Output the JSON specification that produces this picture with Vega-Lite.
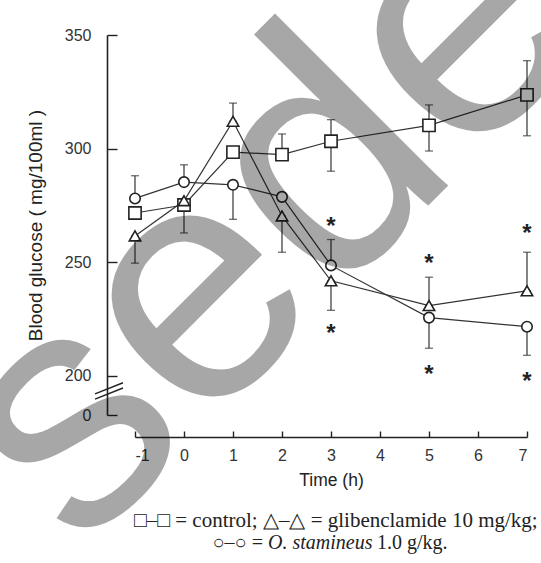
{
  "$schema": "https://vega.github.io/schema/vega-lite/v6.json",
  "width": 392,
  "height": 380,
  "autosize": {"type": "none"},
  "padding": {"left": 135, "top": 35, "right": 14, "bottom": 148},
  "background": "white",
  "config": {"view": {"stroke": null}, "font": "Liberation Sans"},
  "datasets": {
    "glucose": [
      {"group": "control", "t": -1, "y": 271.6, "lo": 271.6, "hi": 271.6},
      {"group": "control", "t": 0, "y": 275.1, "lo": 262.8, "hi": 275.1},
      {"group": "control", "t": 1, "y": 298.4, "lo": 298.4, "hi": 298.4},
      {"group": "control", "t": 2, "y": 297.3, "lo": 297.3, "hi": 306.4},
      {"group": "control", "t": 3, "y": 303.2, "lo": 290.0, "hi": 312.7},
      {"group": "control", "t": 5, "y": 310.2, "lo": 298.9, "hi": 319.2},
      {"group": "control", "t": 7, "y": 323.6, "lo": 305.6, "hi": 338.7},
      {"group": "glibenclamide", "t": -1, "y": 261.5, "lo": 249.5, "hi": 261.5},
      {"group": "glibenclamide", "t": 0, "y": 277.0, "lo": 277.0, "hi": 277.0},
      {"group": "glibenclamide", "t": 1, "y": 312.0, "lo": 312.0, "hi": 320.0},
      {"group": "glibenclamide", "t": 2, "y": 270.3, "lo": 254.3, "hi": 270.3},
      {"group": "glibenclamide", "t": 3, "y": 241.7, "lo": 228.7, "hi": 241.7},
      {"group": "glibenclamide", "t": 5, "y": 230.8, "lo": 230.8, "hi": 243.3},
      {"group": "glibenclamide", "t": 7, "y": 237.3, "lo": 237.3, "hi": 254.3},
      {"group": "O. stamineus", "t": -1, "y": 278.0, "lo": 278.0, "hi": 288.0},
      {"group": "O. stamineus", "t": 0, "y": 285.2, "lo": 285.2, "hi": 292.8},
      {"group": "O. stamineus", "t": 1, "y": 284.0, "lo": 268.8, "hi": 284.0},
      {"group": "O. stamineus", "t": 2, "y": 278.7, "lo": 278.7, "hi": 278.7},
      {"group": "O. stamineus", "t": 3, "y": 248.5, "lo": 248.5, "hi": 259.9},
      {"group": "O. stamineus", "t": 5, "y": 225.5, "lo": 212.0, "hi": 225.5},
      {"group": "O. stamineus", "t": 7, "y": 221.5, "lo": 208.9, "hi": 221.5}
    ],
    "stars": [
      {"t": 3, "y": 268.5},
      {"t": 3, "y": 221.5},
      {"t": 5, "y": 252.3},
      {"t": 5, "y": 203.2},
      {"t": 7, "y": 265.6},
      {"t": 7, "y": 200.2}
    ],
    "one": [{}]
  },
  "layer": [
    {
      "data": {"name": "glucose"},
      "mark": {"type": "rule", "color": "#333", "strokeWidth": 1.2},
      "encoding": {
        "x": {
          "field": "t",
          "type": "quantitative",
          "scale": {"domain": [-1, 7], "nice": false, "zero": false},
          "axis": {
            "values": [-1, 0, 1, 2, 3, 4, 5, 6, 7],
            "labelExpr": "datum.value < 0 ? '-' + abs(datum.value) : datum.label",
            "title": "Time (h)",
            "offset": 22,
            "grid": false,
            "domainColor": "#222",
            "domainWidth": 1.6,
            "tickColor": "#222",
            "tickWidth": 1.4,
            "tickSize": -6,
            "labelPadding": 16,
            "labelFontSize": 16,
            "labelColor": "#333",
            "titleFontSize": 17.5,
            "titleFontWeight": "normal",
            "titleColor": "#222",
            "titlePadding": 8
          }
        },
        "y": {
          "field": "lo",
          "type": "quantitative",
          "scale": {"domain": [182.6, 350], "nice": false, "zero": false},
          "axis": {
            "values": [182.6, 200, 250, 300, 350],
            "labelExpr": "datum.value < 190 ? '0' : datum.label",
            "title": "Blood glucose ( mg/100ml )",
            "offset": 28,
            "grid": false,
            "domainColor": "#222",
            "domainWidth": 1.6,
            "tickColor": "#222",
            "tickWidth": 1.4,
            "tickSize": -10,
            "labelPadding": 26,
            "labelFontSize": 16,
            "labelColor": "#333",
            "titleFontSize": 19,
            "titleFontWeight": "normal",
            "titleColor": "#222",
            "titlePadding": 19
          }
        },
        "y2": {"field": "hi"}
      }
    },
    {
      "data": {"name": "glucose"},
      "mark": {"type": "tick", "orient": "horizontal", "color": "#333", "size": 8, "thickness": 1.3},
      "encoding": {
        "x": {"field": "t", "type": "quantitative"},
        "y": {"field": "lo", "type": "quantitative"}
      }
    },
    {
      "data": {"name": "glucose"},
      "mark": {"type": "tick", "orient": "horizontal", "color": "#333", "size": 8, "thickness": 1.3},
      "encoding": {
        "x": {"field": "t", "type": "quantitative"},
        "y": {"field": "hi", "type": "quantitative"}
      }
    },
    {
      "data": {"name": "glucose"},
      "mark": {"type": "line", "color": "#333", "strokeWidth": 1.2},
      "encoding": {
        "x": {"field": "t", "type": "quantitative"},
        "y": {"field": "y", "type": "quantitative"},
        "detail": {"field": "group"}
      }
    },
    {
      "data": {"name": "glucose"},
      "mark": {"type": "point", "filled": false, "fill": "white", "fillOpacity": 1, "stroke": "#222", "strokeWidth": 1.6, "opacity": 1},
      "encoding": {
        "x": {"field": "t", "type": "quantitative"},
        "y": {"field": "y", "type": "quantitative"},
        "shape": {
          "field": "group",
          "type": "nominal",
          "scale": {"domain": ["control", "glibenclamide", "O. stamineus"], "range": ["square", "triangle-up", "circle"]},
          "legend": null
        },
        "size": {
          "field": "group",
          "type": "nominal",
          "scale": {"domain": ["control", "glibenclamide", "O. stamineus"], "range": [150, 110, 140]},
          "legend": null
        }
      }
    },
    {
      "data": {"name": "stars"},
      "mark": {"type": "text", "text": "*", "fontSize": 24, "color": "#222", "baseline": "middle", "dy": 7, "fontWeight": "bold"},
      "encoding": {
        "x": {"field": "t", "type": "quantitative"},
        "y": {"field": "y", "type": "quantitative"}
      }
    },
    {
      "data": {"name": "one"},
      "mark": {"type": "rule", "color": "#222", "strokeWidth": 1.4},
      "encoding": {
        "x": {"datum": -1.816},
        "x2": {"datum": -1.245},
        "y": {"datum": 189.6},
        "y2": {"datum": 194.5}
      }
    },
    {
      "data": {"name": "one"},
      "mark": {"type": "rule", "color": "#222", "strokeWidth": 1.4},
      "encoding": {
        "x": {"datum": -1.816},
        "x2": {"datum": -1.245},
        "y": {"datum": 191.9},
        "y2": {"datum": 196.8}
      }
    },
    {
      "data": {"name": "one"},
      "mark": {"type": "text", "text": "□–□ = control;  △–△ = glibenclamide 10 mg/kg;", "font": "Liberation Serif", "fontSize": 21, "color": "#222", "align": "center", "baseline": "middle"},
      "encoding": {
        "x": {"datum": 3.1},
        "y": {"datum": 136.0}
      }
    },
    {
      "data": {"name": "one"},
      "mark": {"type": "text", "text": "○–○ =", "font": "Liberation Serif", "fontSize": 20, "color": "#222", "align": "right", "baseline": "middle", "dx": -5},
      "encoding": {
        "x": {"datum": 1.714},
        "y": {"datum": 126.2}
      }
    },
    {
      "data": {"name": "one"},
      "mark": {"type": "text", "text": "O. stamineus", "font": "Liberation Serif", "fontStyle": "italic", "fontSize": 20, "color": "#222", "align": "left", "baseline": "middle"},
      "encoding": {
        "x": {"datum": 1.714},
        "y": {"datum": 126.2}
      }
    },
    {
      "data": {"name": "one"},
      "mark": {"type": "text", "text": "1.0 g/kg.", "font": "Liberation Serif", "fontSize": 20, "color": "#222", "align": "left", "baseline": "middle", "dx": 109},
      "encoding": {
        "x": {"datum": 1.714},
        "y": {"datum": 126.2}
      }
    },
    {
      "data": {"name": "one"},
      "mark": {"type": "text", "text": "sede", "font": "Liberation Sans", "fontSize": 337, "angle": -45, "align": "center", "baseline": "alphabetic", "color": "#000", "opacity": 0.34},
      "encoding": {
        "x": {"datum": 3.14},
        "y": {"datum": 235.0}
      }
    }
  ]
}
